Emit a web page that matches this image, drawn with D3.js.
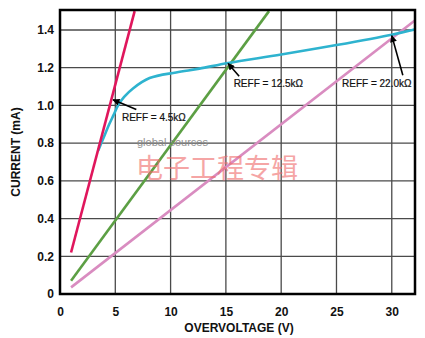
<!DOCTYPE html>
<html>
<head>
<meta charset="utf-8">
<script src="https://cdn.jsdelivr.net/npm/d3@7/dist/d3.min.js"></script>
<style>
  html, body { margin: 0; padding: 0; background: #fff; }
  svg { display: block; font-family: "Liberation Sans", Arial, sans-serif; }
</style>
</head>
<body>
<svg id="chart" width="425" height="338"></svg>
<script>
// Axis ticks
const xTicks = [0, 5, 10, 15, 20, 25, 30];
const yTicks = [0, 0.2, 0.4, 0.6, 0.8, 1.0, 1.2, 1.4];

// Load lines for each effective resistance (overvoltage V, current mA)
const red45 = [[1, 0.22], [6.75, 1.5]];
const green125 = [[1, 0.07], [18.9, 1.5]];
const pink220 = [[1, 0.035], [32.2, 1.455]];

// Device I-V characteristic
const blueCurve = [
  [3.45, 0.76], [3.95, 0.83], [4.45, 0.9], [4.85, 0.95], [5.25, 1.0], [5.8, 1.045],
  [6.6, 1.09], [8.1, 1.145], [10.5, 1.175], [12.6, 1.195], [15.2, 1.225],
  [20, 1.27], [25, 1.32], [30, 1.375], [32.2, 1.405]
];

// Operating-point callouts: label, label position (V, mA), arrow tip (V, mA)
const callouts = [
  { text: "REFF = 4.5k\u03A9", at: [5.6, 0.92], tip: [4.8, 1.03] },
  { text: "REFF = 12.5k\u03A9", at: [15.7, 1.10], tip: [15.2, 1.222] },
  { text: "REFF = 22.0k\u03A9", at: [25.5, 1.10], tip: [30.0, 1.37] }
];
const arrowFrom = [[6.9, 0.978], [16.2, 1.155], [31.0, 1.16]];

const svg = d3.select("#chart");
const m = { left: 60, top: 10, right: 415, bottom: 294 };

const x = d3.scaleLinear().domain([0, 32.1]).range([m.left, m.right]);
const y = d3.scaleLinear().domain([0, 1.506]).range([m.bottom, m.top]);

const defs = svg.append("defs");
defs.append("clipPath").attr("id", "plot")
  .append("rect").attr("x", m.left).attr("y", m.top)
  .attr("width", m.right - m.left).attr("height", m.bottom - m.top);
defs.append("marker").attr("id", "arrow")
  .attr("viewBox", "0 0 10 10").attr("refX", 9).attr("refY", 5)
  .attr("markerWidth", 9).attr("markerHeight", 7).attr("orient", "auto")
  .attr("markerUnits", "userSpaceOnUse")
  .append("path").attr("d", "M0,0 L10,5 L0,10 z").attr("fill", "#000");

// Grid
const grid = svg.append("g").attr("stroke", "#4a4a4a").attr("stroke-width", 1.3);
grid.selectAll(".gx").data(xTicks.filter(d => d > 0)).join("line")
  .attr("x1", d => x(d)).attr("x2", d => x(d))
  .attr("y1", m.top).attr("y2", m.bottom);
grid.selectAll(".gy").data(yTicks.filter(d => d > 0)).join("line")
  .attr("x1", m.left).attr("x2", m.right)
  .attr("y1", d => y(d)).attr("y2", d => y(d));

// Curves
const line = d3.line().x(d => x(d[0])).y(d => y(d[1]));
const curve = d3.line().x(d => x(d[0])).y(d => y(d[1])).curve(d3.curveCatmullRom.alpha(0.5));
const plot = svg.append("g").attr("clip-path", "url(#plot)").attr("fill", "none")
  .attr("stroke-width", 2.6);
plot.append("path").datum(pink220).attr("d", line).attr("stroke", "#d98cc0");
plot.append("path").datum(green125).attr("d", line).attr("stroke", "#5c9f44");
plot.append("path").datum(blueCurve).attr("d", curve).attr("stroke", "#2eb3cf");
plot.append("path").datum(red45).attr("d", line).attr("stroke", "#e0165c");

// Frame
svg.append("rect").attr("x", m.left).attr("y", m.top)
  .attr("width", m.right - m.left).attr("height", m.bottom - m.top)
  .attr("fill", "none").attr("stroke", "#000").attr("stroke-width", 2.5);

// Axes
const xAxis = svg.append("g").attr("transform", `translate(0,${m.bottom})`)
  .call(d3.axisBottom(x).tickValues(xTicks).tickSize(0).tickPadding(13).tickFormat(d3.format("d")));
const yAxis = svg.append("g").attr("transform", `translate(${m.left},0)`)
  .call(d3.axisLeft(y).tickValues(yTicks).tickSize(0).tickPadding(6)
    .tickFormat(d => d === 0 ? "0" : d3.format(".1f")(d)));
[xAxis, yAxis].forEach(a => {
  a.select(".domain").remove();
  a.selectAll("text").attr("font-size", 12).attr("font-weight", "bold")
    .attr("fill", "#111").attr("font-family", "\"Liberation Sans\", Arial, sans-serif");
});

svg.append("text").attr("x", 239).attr("y", 332).attr("text-anchor", "middle")
  .attr("font-size", 12).attr("font-weight", "bold").attr("fill", "#111")
  .text("OVERVOLTAGE (V)");
svg.append("text").attr("transform", "translate(20,152) rotate(-90)")
  .attr("text-anchor", "middle").attr("font-size", 12).attr("font-weight", "bold")
  .attr("fill", "#111").text("CURRENT (mA)");

// Callouts
const ann = svg.append("g");
callouts.forEach((c, i) => {
  ann.append("text").attr("x", x(c.at[0])).attr("y", y(c.at[1]))
    .attr("font-size", 10).attr("fill", "#111").attr("stroke", "#111")
    .attr("stroke-width", 0.2).text(c.text);
  ann.append("line")
    .attr("x1", x(arrowFrom[i][0])).attr("y1", y(arrowFrom[i][1]))
    .attr("x2", x(c.tip[0])).attr("y2", y(c.tip[1]))
    .attr("stroke", "#000").attr("stroke-width", 1.6).attr("marker-end", "url(#arrow)");
});

// Watermark
const wm = svg.append("g").attr("pointer-events", "none");
wm.append("text").attr("x", 137).attr("y", 146).attr("font-size", 11)
  .attr("fill", "#888").attr("opacity", 0.9).text("global sources");
wm.append("text").attr("x", 136).attr("y", 178).attr("font-size", 27)
  .attr("font-family", "\"Noto Sans CJK SC\", sans-serif")
  .attr("fill", "#f06a6a").attr("opacity", 0.6).text("电子工程专辑");
</script>
</body>
</html>
